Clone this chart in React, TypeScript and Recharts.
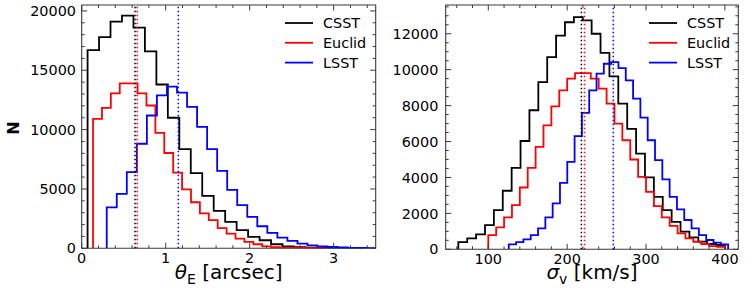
import React from 'react';
import { LineChart, Line, XAxis, YAxis, ReferenceLine, ReferenceArea, Legend } from 'recharts';

const FONT = '"DejaVu Sans", Verdana, sans-serif';
const FRAME = '#3a3a3a';

// ---- theta_E histograms (left panel), bin start / width / counts ----
const thetaCsstStart = 0.07;
const thetaCsstWidth = 0.1365;
const thetaCsst = [16700, 17800, 19100, 19600, 18600, 16600, 13800, 11000, 8360, 6330, 4410, 3160, 2230, 1530, 960, 680, 340, 170, 100, 60, 40, 25, 15, 10];

const thetaEuclidStart = 0.135;
const thetaEuclidWidth = 0.106;
const thetaEuclid = [10900, 11840, 13050, 13900, 13900, 13050, 12030, 9720, 8030, 6380, 4970, 3880, 2940, 2370, 1700, 1240, 820, 540, 340, 170, 100, 60, 40, 25, 15, 10];

const thetaLsstStart = 0.298;
const thetaLsstWidth = 0.1195;
const thetaLsst = [3450, 4580, 6420, 8810, 11190, 12880, 13620, 13110, 11920, 10230, 8360, 6530, 4920, 3640, 2650, 1860, 1300, 900, 620, 400, 250, 170, 110, 70, 40, 25, 15];

const thetaMedians = [0.635, 0.66, 1.15];

// ---- sigma_v histograms (right panel) ----
const sigmaCsstStart = 62;
const sigmaCsstWidth = 11.27;
const sigmaCsst = [400, 611, 833, 1350, 2180, 3260, 4530, 6030, 7740, 9310, 10700, 11900, 12640, 12920, 12740, 12000, 10940, 9630, 8110, 6700, 5330, 4000, 2920, 2180, 1530, 980, 667, 422, 294, 240];

const sigmaEuclidStart = 100;
const sigmaEuclidWidth = 10;
const sigmaEuclid = [794, 1220, 1780, 2460, 3440, 4530, 5700, 6900, 7960, 8850, 9500, 9810, 9810, 9500, 8940, 8110, 7000, 6070, 5000, 4030, 3200, 2400, 1780, 1300, 890, 611, 420, 294, 180, 140];

const sigmaLsstStart = 126;
const sigmaLsstWidth = 9.27;
const sigmaLsst = [278, 400, 556, 794, 1170, 1780, 2560, 3700, 4870, 6300, 7590, 8850, 9780, 10330, 10420, 10090, 9400, 8390, 7330, 6070, 4960, 3890, 2920, 2220, 1630, 1170, 794, 517, 367, 278];

const sigmaMedians = [218, 222, 258.5];

// ---- ticks ----
const thetaMajor = [0, 1, 2, 3];
const thetaMinorStep = 0.2;
const nLeftMajor = [0, 5000, 10000, 15000, 20000];
const nLeftMinorStep = 1000;
const sigmaMajor = [100, 200, 300, 400];
const sigmaMinorStep = 20;
const nRightMajor = [0, 2000, 4000, 6000, 8000, 10000, 12000];
const nRightMinorStep = 500;

const surveys = ['CSST', 'Euclid', 'LSST'];
const colors = ['#000000', '#ff0000', '#0000ff'];

// turn bin counts into step points (closed at both ends like histtype='step')
function histSteps(start: number, width: number, counts: number[]) {
  const pts = [{ x: start, y: 0 }];
  counts.forEach((c, i) => pts.push({ x: start + i * width, y: c }));
  const end = start + counts.length * width;
  pts.push({ x: end, y: counts[counts.length - 1] });
  pts.push({ x: end, y: 0 });
  return pts;
}

function rangeTicks(from: number, to: number, step: number) {
  const n = Math.round((to - from) / step);
  return Array.from({ length: n + 1 }, (_, i) => Math.round((from + i * step) * 1000) / 1000);
}

const isIn = (v: number, majors: number[]) => majors.some((m) => Math.abs(m - v) < 1e-6);

const LegendBox = () => (
  <svg width={110} height={60} style={{ display: 'block' }}>
    {surveys.map((s, i) => (
      <g key={s}>
        <line x1={0} x2={28} y1={10 + i * 19.8} y2={10 + i * 19.8} stroke={colors[i]} strokeWidth={1.8} />
        <text x={38} y={10 + i * 19.8} dy="0.36em" fontSize={14.4} fontFamily={FONT} fill="#000">
          {s}
        </text>
      </g>
    ))}
  </svg>
);

interface PanelProps {
  width: number;
  height: number;
  plot: { left: number; top: number; right: number; bottom: number };
  xDomain: [number, number];
  yDomain: [number, number];
  xTicks: number[];
  xMajor: number[];
  yTicks: number[];
  yMajor: number[];
  series: Array<Array<{ x: number; y: number }>>;
  medians: number[];
  legendLeft: number;
  xLabel: React.ReactNode;
  yLabel?: React.ReactNode;
  yLabelGap: number;
}

function Panel(p: PanelProps) {
  const { left, top, right, bottom } = p.plot;

  const xTick = (props: any) => {
    const { x, payload } = props;
    const major = isIn(payload.value, p.xMajor);
    const len = major ? 5.5 : 3;
    return (
      <g>
        <line x1={x} x2={x} y1={bottom} y2={bottom - len} stroke={FRAME} strokeWidth={1} />
        <line x1={x} x2={x} y1={top} y2={top + len} stroke={FRAME} strokeWidth={1} />
        {major && (
          <text x={x} y={bottom + 15} textAnchor="middle" fontSize={14.4} fontFamily={FONT} fill="#000">
            {payload.value}
          </text>
        )}
      </g>
    );
  };

  const yTick = (props: any) => {
    const { y, payload } = props;
    const major = isIn(payload.value, p.yMajor);
    const len = major ? 5.5 : 3;
    return (
      <g>
        <line x1={left} x2={left + len} y1={y} y2={y} stroke={FRAME} strokeWidth={1} />
        <line x1={right} x2={right - len} y1={y} y2={y} stroke={FRAME} strokeWidth={1} />
        {major && (
          <text x={left - p.yLabelGap} y={y} dy="0.36em" textAnchor="end" fontSize={14.4} fontFamily={FONT} fill="#000">
            {payload.value}
          </text>
        )}
      </g>
    );
  };

  return (
    <LineChart
      width={p.width}
      height={p.height}
      margin={{ top, right: p.width - right, left: 0, bottom: 0 }}
    >
      <XAxis
        type="number"
        dataKey="x"
        domain={p.xDomain}
        allowDataOverflow
        ticks={p.xTicks}
        interval={0}
        height={p.height - bottom}
        tick={xTick}
        tickLine={false}
        axisLine={false}
        label={() => p.xLabel}
      />
      <YAxis
        type="number"
        dataKey="y"
        domain={p.yDomain}
        allowDataOverflow
        ticks={p.yTicks}
        interval={0}
        width={left}
        tick={yTick}
        tickLine={false}
        axisLine={false}
        label={p.yLabel ? () => p.yLabel : undefined}
      />
      <ReferenceArea
        x1={p.xDomain[0]}
        x2={p.xDomain[1]}
        y1={p.yDomain[0]}
        y2={p.yDomain[1]}
        fill="none"
        stroke={FRAME}
        strokeWidth={1.1}
        ifOverflow="visible"
      />
      {p.series.map((d, i) => (
        <Line
          key={surveys[i]}
          data={d}
          dataKey="y"
          type="stepAfter"
          stroke={colors[i]}
          strokeWidth={1.8}
          dot={false}
          activeDot={false}
          isAnimationActive={false}
        />
      ))}
      {p.medians.map((m, i) => (
        <ReferenceLine
          key={`med-${i}`}
          x={m}
          stroke={colors[i]}
          strokeWidth={1.5}
          strokeDasharray="1.5 2.5"
        />
      ))}
      <Legend
        layout="vertical"
        align="center"
        verticalAlign="middle"
        content={() => <LegendBox />}
        wrapperStyle={{ position: 'absolute', left: p.legendLeft, top: 12.7, width: 110, height: 60 }}
      />
    </LineChart>
  );
}

export default function App() {
  const thetaSeries = [
    histSteps(thetaCsstStart, thetaCsstWidth, thetaCsst),
    histSteps(thetaEuclidStart, thetaEuclidWidth, thetaEuclid),
    histSteps(thetaLsstStart, thetaLsstWidth, thetaLsst),
  ];
  const sigmaSeries = [
    histSteps(sigmaCsstStart, sigmaCsstWidth, sigmaCsst),
    histSteps(sigmaEuclidStart, sigmaEuclidWidth, sigmaEuclid),
    histSteps(sigmaLsstStart, sigmaLsstWidth, sigmaLsst),
  ];

  return (
    <div style={{ position: 'absolute', left: 0, top: 0, width: 747, height: 298, background: '#fff' }}>
      <div style={{ position: 'absolute', left: 0, top: 0 }}>
        <Panel
          width={380}
          height={298}
          plot={{ left: 81.7, top: 5, right: 375.7, bottom: 248.3 }}
          xDomain={[0, 3.5]}
          yDomain={[0, 20500]}
          xTicks={rangeTicks(0, 3.4, thetaMinorStep)}
          xMajor={thetaMajor}
          yTicks={rangeTicks(0, 20000, nLeftMinorStep)}
          yMajor={nLeftMajor}
          series={thetaSeries}
          medians={thetaMedians}
          legendLeft={285}
          yLabelGap={5.7}
          xLabel={
            <text x={228.7} y={279} textAnchor="middle" fontSize={20} fontFamily={FONT} fill="#000">
              <tspan fontStyle="italic">θ</tspan>
              <tspan fontSize={14} dy={4.5}>E</tspan>
              <tspan dy={-4.5}> [arcsec]</tspan>
            </text>
          }
          yLabel={
            <text x={19} y={128} transform="rotate(-90 19 128)" textAnchor="middle" fontSize={16} fontWeight="bold" fontFamily={FONT} fill="#000">
              N
            </text>
          }
        />
      </div>
      <div style={{ position: 'absolute', left: 380, top: 0 }}>
        <Panel
          width={367}
          height={298}
          plot={{ left: 65.7, top: 5, right: 358.3, bottom: 249.3 }}
          xDomain={[46, 417]}
          yDomain={[0, 13600]}
          xTicks={rangeTicks(60, 400, sigmaMinorStep)}
          xMajor={sigmaMajor}
          yTicks={rangeTicks(0, 13500, nRightMinorStep)}
          yMajor={nRightMajor}
          series={sigmaSeries}
          medians={sigmaMedians}
          legendLeft={269.3}
          yLabelGap={7.4}
          xLabel={
            <text x={212} y={279} textAnchor="middle" fontSize={20} fontFamily={FONT} fill="#000">
              <tspan fontStyle="italic">σ</tspan>
              <tspan fontSize={14} dy={4.5}>v</tspan>
              <tspan dy={-4.5}> [km/s]</tspan>
            </text>
          }
        />
      </div>
    </div>
  );
}
